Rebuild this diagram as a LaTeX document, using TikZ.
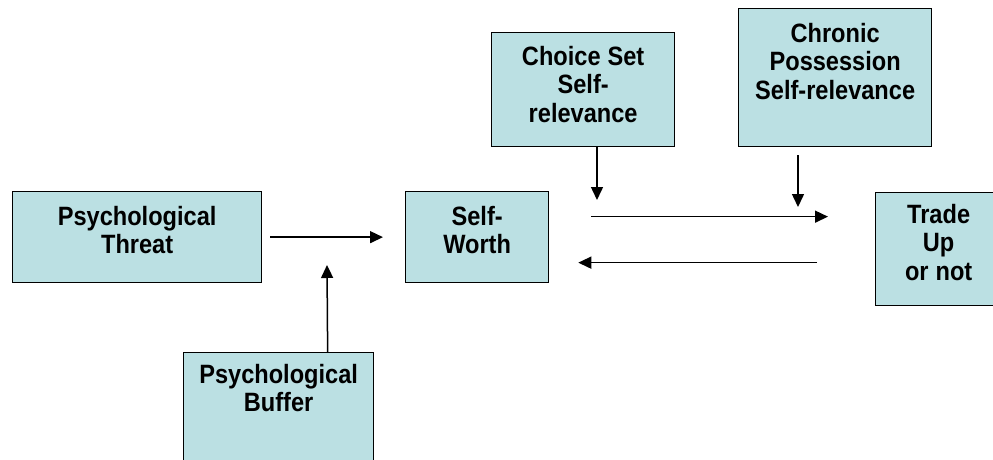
\documentclass[tikz,border=0pt]{standalone}
\usepackage{fontspec}
\setmainfont{Liberation Sans}[FakeStretch=0.89]
\usetikzlibrary{positioning,arrows.meta}
\definecolor{boxfill}{RGB}{187,224,227}

\begin{document}
\begin{tikzpicture}[x=1pt, y=-1pt, -{Triangle[length=13pt,width=12pt]}, line width=1.5pt,
  factor/.style={draw, fill=boxfill, line width=1.3pt, inner sep=0pt, anchor=north west, align=center,
    text height=34pt, font=\fontsize{26.5}{28.3}\selectfont\bfseries,
    execute at begin node={\spaceskip=7pt\relax}}]
\useasboundingbox (0,0) rectangle (993,460);
\node[factor, text width=249pt, text depth=57pt] (threat) at (12,191) {Psychological\\Threat};
\node[factor, text width=143pt, text depth=57pt] (worth) at (405,191) {Self-\\Worth};
\node[factor, text width=183pt, text height=33pt, text depth=81pt] (choice) at (491,32) {Choice Set\\Self-\\relevance};
\node[factor, text width=193pt, text depth=104pt] (chronic) at (738,8) {Chronic\\Possession\\Self-relevance};
\node[factor, text width=126pt, text height=31pt, text depth=82pt] (trade) at (875,192) {Trade\\Up\\or not};
\node[factor, text width=190pt, text height=31pt, text depth=87pt] (buffer) at (183,352) {Psychological\\Buffer};
% free ends of the moderator arrows
\coordinate (bufend) at (327,265);
\coordinate (choiceend) at (597,200);
\coordinate (chronend) at (798,207);

\draw[shorten <=8pt, shorten >=22pt] (threat) -- (worth);
\draw ([xshift=49pt]buffer.north) -- (bufend);
\draw (choiceend |- choice.south) -- (choiceend);
\draw[shorten <=8pt] (chronend |- chronic.south) -- (chronend);
\draw[shorten <=42pt, shorten >=47pt] ([yshift=20.5pt]worth.east) -- ([yshift=20.5pt]worth.east -| trade.west);
\draw[shorten <=58pt, shorten >=29pt] ([yshift=-13.5pt]trade.west) -- ([yshift=-13.5pt]trade.west -| worth.east);
\end{tikzpicture}
\end{document}
